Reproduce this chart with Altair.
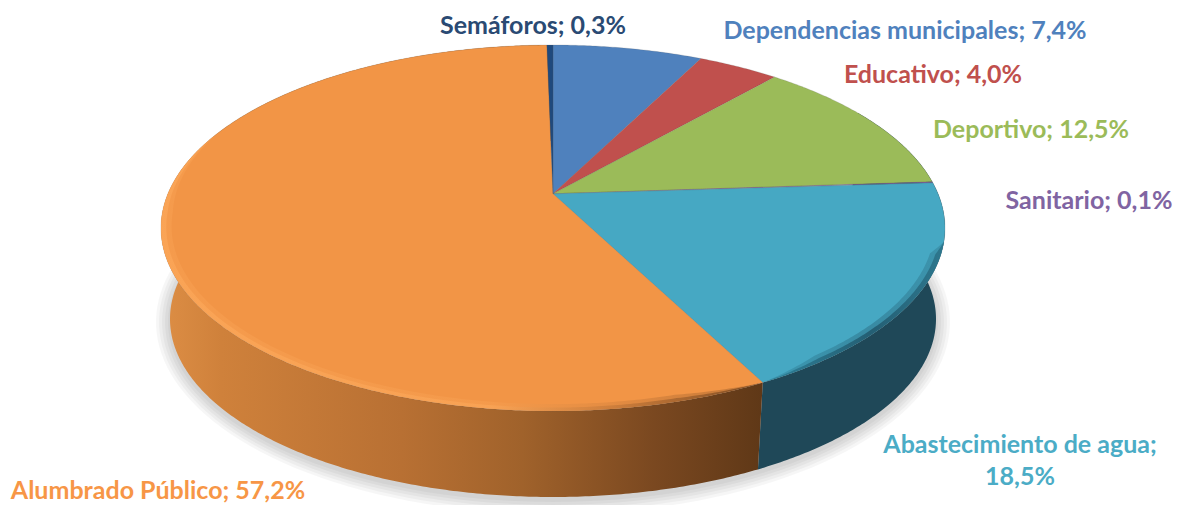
import math
import altair as alt

# values (percent), clockwise from the top of the pie
names = ["Dependencias municipales", "Educativo", "Deportivo", "Sanitario",
         "Abastecimiento de agua", "Alumbrado Público", "Semáforos"]
shares = [7.4, 4.0, 12.5, 0.1, 18.5, 57.2, 0.3]
face_colors = ["#4F81BD", "#C0504D", "#9BBB59", "#8064A2", "#46A8C3", "#F29546", "#1F497D"]
text_colors = ["#4F81BD", "#C0504D", "#9BBB59", "#8064A2", "#4BACC6", "#F79646", "#2A4A73"]
label_lines = [["Dependencias municipales; 7,4%"], ["Educativo; 4,0%"], ["Deportivo; 12,5%"],
               ["Sanitario; 0,1%"], ["Abastecimiento de agua;", "18,5%"],
               ["Alumbrado Público; 57,2%"], ["Semáforos; 0,3%"]]
label_xy = [(905, 31), (933, 75), (1031, 130), (1089, 201), (1020, 445), (158, 491), (533, 26)]

# layout of the 3D view
CX = 553
PERSP = -0.1868
TOP = (45, 411, 392)      # back y, front y, half width of the top face
BOTTOM = (141, 497, 383)  # same for the base
FONT = "Lato"
FS = 25


def viewer(back, front, half):
    k = 1 + PERSP
    m = 1 - PERSP
    b = (back * m + front * k) / 2
    a = (front * k - back * m) / 2
    R = half * math.sqrt(1 - PERSP ** 2)

    def at(deg, r=1.0):
        t = math.radians(deg)
        u, v = r * math.sin(t), -r * math.cos(t)
        d = 1 + PERSP * v
        return [CX + R * u / d, (b + a * v) / d]
    return at


def arc(at, d0, d1, step=0.5):
    n = max(2, int(abs(d1 - d0) / step) + 1)
    return [at(d0 + (d1 - d0) * i / (n - 1)) for i in range(n)]


def band(at, d0, d1, width, step=0.5):
    """Rim strip on the top face, tapering to nothing at both ends."""
    n = int(abs(d1 - d0) / step) + 1
    out = [at(d0 + (d1 - d0) * i / (n - 1)) for i in range(n)]
    back = []
    for i in range(n - 1, -1, -1):
        f = min(1.0, i / (n - 1) * 12, (n - 1 - i) / (n - 1) * 5)
        back.append(at(d0 + (d1 - d0) * i / (n - 1), 1 - width * f))
    return out + back


def poly(points):
    return {"type": "Feature", "properties": {},
            "geometry": {"type": "Polygon", "coordinates": [points + [points[0]]]}}


def shape(points, **mark):
    return alt.Chart(alt.Data(values=[poly(points)])).mark_geoshape(**mark).project(
        type="identity", scale=1, translate=[-8, -8])


def grad(stops):
    return alt.Gradient(gradient="linear", x1=0, x2=1, y1=0, y2=0,
                        stops=[alt.GradientStop(offset=o, color=c) for o, c in stops])


edges = [0]
for s in shares:
    edges.append(edges[-1] + s * 3.6)

top = viewer(*TOP)
apex = top(0, 0.0)
base = viewer(*BOTTOM)
d_orange = edges[5]
layers = []

# soft shadow under the base
for grow in (14, 11, 8, 5, 2):
    sh = viewer(BOTTOM[0] - grow + 3, BOTTOM[1] + grow + 3, BOTTOM[2] + grow)
    layers.append(shape(arc(sh, 0, 360, 2)[:-1], fill="#000000", fillOpacity=0.035, strokeOpacity=0))

# side wall
layers.append(shape(arc(top, 60, d_orange) + arc(base, d_orange, 60),
                    fill="#1F4858", strokeOpacity=0))
layers.append(shape(arc(top, d_orange, 360) + arc(base, 360, d_orange),
                    fill=grad([(0, "#DD8E45"), (0.1, "#CF813B"), (0.4, "#B87033"),
                               (0.6, "#A0622B"), (0.82, "#7A4820"), (1, "#5F3817")]),
                    strokeOpacity=0))

# top face slices
for i, col in enumerate(face_colors):
    layers.append(shape([apex] + arc(top, edges[i], edges[i + 1]),
                        fill=col, stroke="#5A5A5A", strokeWidth=0.6, strokeOpacity=0.3))

# bevel along the front rim: a wide faint strip and a narrow strong one
orange_rim = [(0, "#FBA658"), (0.55, "#F9A456"), (0.75, "#C97B3A"), (0.92, "#8A5326"), (1, "#6A3E1B")]
teal_rim = [(0, "#2A7C94"), (0.6, "#1F5468"), (1, "#2A7086")]
for width, alpha in ((0.026, 0.35), (0.013, 0.8)):
    layers.append(shape(band(top, d_orange, 292, width), fill=grad(orange_rim),
                        fillOpacity=alpha, strokeOpacity=0))
    layers.append(shape(band(top, 105, d_orange, width), fill=grad(teal_rim),
                        fillOpacity=alpha, strokeOpacity=0))

# labels
for lines, (lx, ly), col in zip(label_lines, label_xy, text_colors):
    for j, line in enumerate(lines):
        layers.append(alt.Chart(alt.Data(values=[{"t": line}])).mark_text(
            font=FONT, fontSize=FS, fontWeight="bold", color=col, align="center", baseline="middle",
            x=lx - 8, y=ly - 8 + j * 32).encode(text="t:N"))

chart = alt.layer(*layers).properties(width=1165, height=497, padding=0, background="white",
                                      autosize=alt.AutoSizeParams(type="none")
    ).configure_view(stroke=None)
chart.save("out.html", embed_options={"renderer": "svg", "actions": False})
